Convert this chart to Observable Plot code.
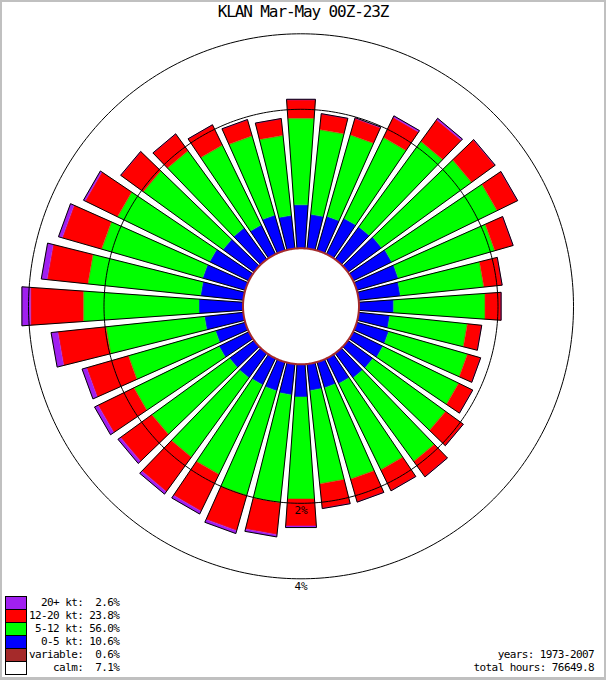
<!DOCTYPE html>
<html><head><meta charset="utf-8">
<script src="https://cdn.jsdelivr.net/npm/d3@7"></script>
<script src="https://cdn.jsdelivr.net/npm/@observablehq/plot@0.6"></script>
<style>
html,body{margin:0;padding:0;background:#c0c0c0;width:606px;height:680px;overflow:hidden;}
#box{position:absolute;left:2px;top:2px;width:602px;height:675px;background:#fff;overflow:hidden;}
#chart{position:absolute;left:0;top:0;}
#title{position:absolute;left:0;top:2px;width:602px;text-align:center;font-family:"DejaVu Sans Mono";font-size:16px;letter-spacing:-1.1px;line-height:16px;white-space:pre;color:#000;}
.lg{position:absolute;font-family:"DejaVu Sans Mono";font-size:11px;letter-spacing:-0.6px;line-height:13px;white-space:pre;color:#000;}
.sw{position:absolute;box-sizing:border-box;border:1px solid #000;width:22px;height:14px;}
</style></head>
<body>
<div id="box">
  <div id="chart"></div>
  <div id="title"></div>
  <div id="legend"></div>
</div>
<script>
// ---- data (percent of hours) ----
const title = "KLAN Mar-May 00Z-23Z";
const directions = [0,10,20,30,40,50,60,70,80,90,100,110,120,130,140,150,160,170,180,190,200,210,220,230,240,250,260,270,280,290,300,310,320,330,340,350];
const speed0to5 = [0.395,0.293,0.306,0.352,0.357,0.371,0.386,0.389,0.374,0.296,0.260,0.280,0.280,0.257,0.254,0.228,0.217,0.216,0.276,0.259,0.247,0.243,0.252,0.251,0.280,0.257,0.342,0.400,0.386,0.401,0.394,0.335,0.341,0.274,0.319,0.283];
const speed5to12 = [1.418,1.299,1.302,1.452,1.802,1.949,2.113,1.717,1.346,1.435,1.131,1.225,1.269,1.357,1.636,1.452,1.421,1.394,1.640,1.756,1.757,1.542,1.525,1.478,1.483,1.375,1.642,2.097,2.018,1.841,1.771,1.621,1.556,1.352,1.265,1.195];
const speed12to20 = [0.415,0.331,0.359,0.500,0.655,0.730,0.586,0.450,0.397,0.348,0.282,0.276,0.321,0.467,0.427,0.507,0.511,0.530,0.630,0.770,0.880,0.960,0.995,0.890,0.925,0.985,1.200,1.460,1.085,1.050,0.900,0.653,0.476,0.484,0.354,0.342];
const speed20plus = [0.012,0.005,0.016,0.040,0.045,0.012,0.005,0.003,0.002,0.002,0.001,0.001,0.001,0.001,0.002,0.002,0.003,0.005,0.040,0.060,0.080,0.080,0.080,0.080,0.100,0.120,0.190,0.270,0.170,0.110,0.050,0.005,0.002,0.002,0.002,0.002];
const ringPercents = [2, 4];
const legendLabels = ["20+ kt", "12-20 kt", "5-12 kt", "0-5 kt", "variable", "calm"];
const legendTotals = [2.6, 23.8, 56.0, 10.6, 0.6, 7.1];
const legendColors = ["#a020f0", "#ff0000", "#00ff00", "#0000ff", "#a52a2a", "#ffffff"];
const footer = ["years: 1973-2007", "total hours: 76649.8"];

// ---- radial (equal-area) scale ----
const R0 = 58, K = 17723, HALF = 4;
const rad = p => Math.sqrt(R0 * R0 + K * p);
const pt = (r, deg) => { const a = deg * Math.PI / 180; return {x: r * Math.sin(a), y: r * Math.cos(a)}; };

const bins = [
  {values: speed0to5, color: legendColors[3]},
  {values: speed5to12, color: legendColors[2]},
  {values: speed12to20, color: legendColors[1]},
  {values: speed20plus, color: legendColors[0]}
];
const segs = [], outlines = [];
directions.forEach((d, i) => {
  let cum = 0;
  bins.forEach((b, j) => {
    const r1 = rad(cum); cum += b.values[i]; const r2 = rad(cum);
    const id = i + "-" + j;
    [[r1, d - HALF], [r2, d - HALF], [r2, d + HALF], [r1, d + HALF]].forEach(([r, a]) => segs.push({id, color: b.color, ...pt(r, a)}));
  });
  [[rad(0), d - HALF], [rad(cum), d - HALF], [rad(cum), d + HALF], [rad(0), d + HALF]].forEach(([r, a]) => outlines.push({id: i, ...pt(r, a)}));
});
const circle = (p, id) => d3.range(0, 360, 1).map(a => ({id, ...pt(rad(p), a)}));
const rings = ringPercents.flatMap(p => circle(p, p));
const calm = circle(0, "calm");

const plot = Plot.plot({
  width: 602, height: 675, margin: 0,
  x: {domain: [-298.5, 303.5], axis: null},
  y: {domain: [-371.2, 303.8], axis: null},
  color: {type: "identity"},
  marks: [
    Plot.line(segs, {x: "x", y: "y", z: "id", fill: "color", stroke: "color", strokeWidth: 0.3, curve: "linear-closed"}),
    Plot.line(outlines, {x: "x", y: "y", z: "id", stroke: "#000", strokeWidth: 1, curve: "linear-closed"}),
    Plot.line(rings, {x: "x", y: "y", z: "id", stroke: "#000", strokeWidth: 1, curve: "linear-closed"}),
    Plot.line(calm, {x: "x", y: "y", fill: "#fff", stroke: "#a52a2a", strokeWidth: 2, curve: "linear-closed"}),
    Plot.text(ringPercents, {x: 0, y: p => -rad(p), text: p => p + "%", lineAnchor: "top", dy: 3, fontSize: 11, fontFamily: "DejaVu Sans Mono", fill: "#000"})
  ]
});
document.getElementById("chart").appendChild(plot);
document.getElementById("title").textContent = title;

const lg = document.getElementById("legend");
const top0 = 594;
legendLabels.forEach((lab, i) => {
  const sw = document.createElement("div");
  sw.className = "sw";
  sw.style.left = "3px"; sw.style.top = (top0 + i * 13) + "px";
  sw.style.background = legendColors[i];
  lg.appendChild(sw);
  const t = document.createElement("div");
  t.className = "lg";
  t.style.left = "27px"; t.style.top = (top0 + i * 13) + "px";
  t.textContent = lab.padStart(8) + ": " + legendTotals[i].toFixed(1).padStart(4) + "%";
  lg.appendChild(t);
});
footer.forEach((s, i) => {
  const t = document.createElement("div");
  t.className = "lg";
  t.style.right = "10px"; t.style.top = (top0 + (4 + i) * 13) + "px";
  t.textContent = s;
  lg.appendChild(t);
});
</script>
</body></html>
